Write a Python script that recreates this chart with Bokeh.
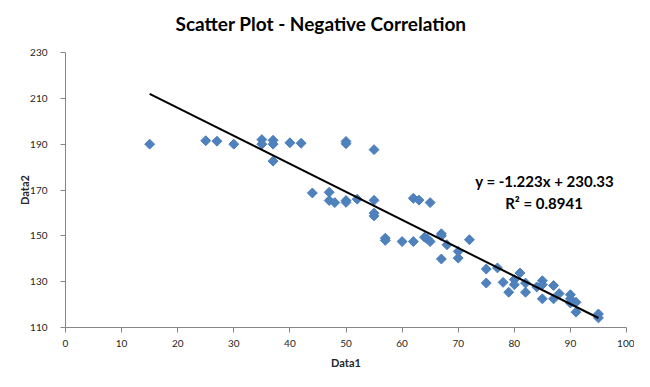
from bokeh.plotting import figure
from bokeh.models import Range1d, FixedTicker, Label, ColumnDataSource, Title
from bokeh.embed import file_html
from bokeh.resources import INLINE
import numpy as np

# ---- data ----
data1 = [15, 25, 27, 30, 35, 35, 37, 37, 37, 40, 42, 50, 50, 55,
         44, 47, 47, 48, 50, 50, 52, 55, 55, 55, 57, 57, 60, 62, 62, 63,
         64, 64.5, 65, 65, 67, 67, 68, 67, 70, 70, 72, 75, 75, 77, 78, 79,
         80, 80, 81, 82, 82, 84, 85, 85, 85, 87, 87, 88, 90, 90, 90, 91, 91, 95, 95]
data2 = [190, 191.5, 191.3, 190, 192, 190, 191.7, 190, 182.6, 190.6, 190.4, 191.2, 190.2, 187.6,
         168.7, 169, 165.4, 164.5, 165.4, 164.6, 166, 165.5, 159.9, 158.7, 149, 148, 147.5, 147.5, 166.4, 165.6,
         149.4, 148.6, 147.5, 164.5, 150.9, 150, 146.1, 139.9, 143.2, 140.3, 148.3, 135.5, 129.4, 136, 129.7, 125.4,
         130.9, 128.7, 133.8, 129.4, 125.4, 127.7, 130.4, 128.7, 122.5, 128.3, 122.5, 124.8, 124.3, 122.5, 120.7, 121, 116.7, 115.9, 114.2]
slope = -1.223
intercept = 230.33
r_squared = 0.8941
trend_x = [15, 95]
x_ticks = [0, 10, 20, 30, 40, 50, 60, 70, 80, 90, 100]
y_ticks = [110, 130, 150, 170, 190, 210, 230]
chart_title = "Scatter Plot - Negative Correlation"

FONT = "Lato"
AXIS_COLOR = "#868686"
TEXT_COLOR = "#262626"

p = figure(width=634, height=371, output_backend="svg", toolbar_location=None,
           title=None,
           x_range=Range1d(0, 100), y_range=Range1d(110, 230),
           min_border_left=65, min_border_right=8, min_border_top=52, min_border_bottom=43)
p.outline_line_color = None
p.grid.visible = False
p.border_fill_color = "white"
p.background_fill_color = "white"

# spacer between title and plot area
p.add_layout(Title(text=" ", text_font_size="10px", standoff=0), "above")
p.add_layout(Title(text=chart_title, text_font=FONT, text_font_size="19px",
                   text_font_style="bold", text_color="black", align="left",
                   offset=110, standoff=10), "above")

for ax, ticks in ((p.xaxis, x_ticks), (p.yaxis, y_ticks)):
    ax.ticker = FixedTicker(ticks=ticks)
    ax.axis_line_color = AXIS_COLOR
    ax.major_tick_line_color = AXIS_COLOR
    ax.major_tick_in = 0
    ax.major_tick_out = 5
    ax.minor_tick_line_color = None
    ax.major_label_text_font = FONT
    ax.major_label_text_font_size = "10px"
    ax.major_label_text_color = TEXT_COLOR
    ax.axis_label_text_font = FONT
    ax.axis_label_text_font_size = "11px"
    ax.axis_label_text_font_style = "bold"
    ax.axis_label_text_color = TEXT_COLOR

p.xaxis.axis_label = "Data1"
p.yaxis.axis_label = "Data2"
p.xaxis.major_label_standoff = 7
p.xaxis.axis_label_standoff = 6
p.yaxis.major_label_standoff = 13
p.yaxis.axis_label_standoff = -4

src = ColumnDataSource(dict(x=data1, y=data2))
p.scatter("x", "y", source=src, marker="square", size=7, angle=np.pi / 4,
          fill_color="#4F81BD", line_color="#4A7EBB", line_width=1)

trend_y = [slope * x + intercept for x in trend_x]
p.line(trend_x, trend_y, line_color="black", line_width=2)

eq1 = Label(x=85.4, y=173.9, text=f"y = {slope}x + {intercept}", text_font=FONT,
            text_font_size="15px", text_font_style="bold", text_color="black",
            text_align="center", text_baseline="middle")
eq2 = Label(x=85.3, y=164.3, text=f"R² = {r_squared}", text_font=FONT,
            text_font_size="15px", text_font_style="bold", text_color="black",
            text_align="center", text_baseline="middle")
p.add_layout(eq1)
p.add_layout(eq2)

open("out.html", "w").write(file_html(p, INLINE))
